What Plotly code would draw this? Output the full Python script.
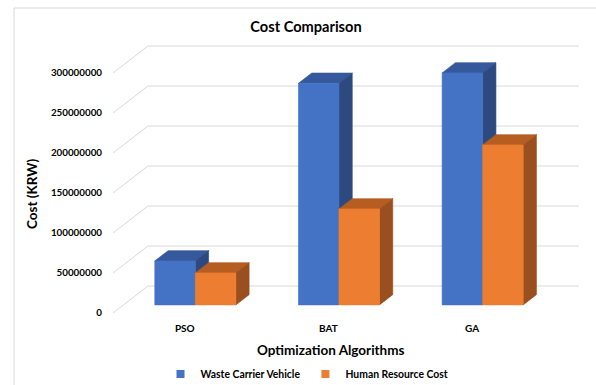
import plotly.graph_objects as go

# ---- data -------------------------------------------------------------
categories = ["PSO", "BAT", "GA"]
waste_carrier_vehicle = [55_000_000, 277_000_000, 290_000_000]
human_resource_cost = [40_000_000, 120_000_000, 200_000_000]
y_tick_values = [0, 50_000_000, 100_000_000, 150_000_000,
                 200_000_000, 250_000_000, 300_000_000]

series_names = ["Waste Carrier Vehicle", "Human Resource Cost"]
series_values = [waste_carrier_vehicle, human_resource_cost]

# ---- styling / oblique projection -------------------------------------
FONT = "Lato"
FRONT_COLORS = ["#4472C4", "#ED7D31"]
TOP_COLORS = ["#35599C", "#B65D22"]
SIDE_COLORS = ["#2C4A7F", "#9A4F1E"]
GRID_COLOR = "#D9D9D9"

DEPTH_X = 0.2436          # full floor depth, in category units
DEPTH_Y = 33_750_000      # full floor depth, in cost units
BAR_FRONT = 0.30          # depth fraction of the bars' front faces
BAR_BACK = 0.68           # depth fraction of the bars' back faces
BAR_WIDTH = 0.282         # width of one bar, in category units
WALL_LEFT, WALL_RIGHT = -0.5, len(categories) - 0.5

W, H = 596, 385
M_L, M_R, M_T, M_B = 108, 11, 36, 67
X_RANGE = [-0.5346, 2.7856]
Y_RANGE = [-6_250_000, 346_250_000]
PW, PH = W - M_L - M_R, H - M_T - M_B


def proj(x, v, d):
    """Oblique projection of (x, value, depth-fraction) onto the 2D axes."""
    return x + d * DEPTH_X, v + d * DEPTH_Y


def polygon(points):
    xs, ys = zip(*[proj(*p) for p in points])
    return list(xs) + [xs[0]], list(ys) + [ys[0]]


def paper_x(px):
    return (px - M_L) / PW


def paper_y(py):
    return (H - M_B - py) / PH


fig = go.Figure()

# side wall diagonals and back wall gridlines
gx, gy = [], []
for v in y_tick_values:
    for p in [(WALL_LEFT, v, 0), (WALL_LEFT, v, 1), (WALL_RIGHT, v, 1)]:
        px, py = proj(*p)
        gx.append(px)
        gy.append(py)
    gx.append(None)
    gy.append(None)
fig.add_trace(go.Scatter(x=gx, y=gy, mode="lines",
                         line=dict(color=GRID_COLOR, width=1),
                         hoverinfo="skip", showlegend=False))

# 3D bars, drawn left to right so nearer faces cover hidden ones
for ci, cat in enumerate(categories):
    for si, vals in enumerate(series_values):
        v = vals[ci]
        x0 = ci - BAR_WIDTH + si * BAR_WIDTH
        x1 = x0 + BAR_WIDTH
        faces = [
            ([(x0, v, BAR_FRONT), (x1, v, BAR_FRONT),
              (x1, v, BAR_BACK), (x0, v, BAR_BACK)], TOP_COLORS[si]),
            ([(x1, 0, BAR_FRONT), (x1, 0, BAR_BACK),
              (x1, v, BAR_BACK), (x1, v, BAR_FRONT)], SIDE_COLORS[si]),
            ([(x0, 0, BAR_FRONT), (x1, 0, BAR_FRONT),
              (x1, v, BAR_FRONT), (x0, v, BAR_FRONT)], FRONT_COLORS[si]),
        ]
        for pts, col in faces:
            px, py = polygon(pts)
            fig.add_trace(go.Scatter(
                x=px, y=py, mode="lines", fill="toself", fillcolor=col,
                line=dict(color=col, width=0.6),
                name=series_names[si],
                hovertemplate=f"{cat}: {v:,}<extra>{series_names[si]}</extra>",
                showlegend=False))

# legend entries
for si, name in enumerate(series_names):
    fig.add_trace(go.Scatter(x=[None], y=[None], mode="markers", name=name,
                             marker=dict(symbol="square", size=8,
                                         color=FRONT_COLORS[si])))

# chart frame (left and top edges)
fx, fy = paper_x(14), paper_y(8)
frame = dict(type="line", xref="paper", yref="paper",
             line=dict(color=GRID_COLOR, width=1), layer="below")
fig.add_shape(frame, x0=fx, x1=fx, y0=fy, y1=-0.5)
fig.add_shape(frame, x0=fx, x1=1.5, y0=fy, y1=fy)

fig.update_layout(
    width=W, height=H,
    margin=dict(l=M_L, r=M_R, t=M_T, b=M_B),
    paper_bgcolor="white", plot_bgcolor="white",
    font=dict(family=FONT, color="#000000"),
    title=dict(text="Cost Comparison", x=306 / W, xref="container",
               xanchor="center", y=1 - 27 / H, yref="container",
               yanchor="middle",
               font=dict(family=FONT, size=14.6, weight="bold", color="#000")),
    xaxis=dict(range=X_RANGE, tickvals=list(range(len(categories))),
               ticktext=categories, showgrid=False, zeroline=False,
               showline=False, ticks="", ticklabelstandoff=3,
               tickfont=dict(family=FONT, size=10, weight="bold")),
    yaxis=dict(range=Y_RANGE, tickvals=y_tick_values, tickformat="d",
               showgrid=False, zeroline=False, showline=False,
               ticks="outside", ticklen=3, tickcolor="rgba(0,0,0,0)",
               tickfont=dict(family=FONT, size=9.8, weight="bold")),
    legend=dict(orientation="h", x=307 / W, xref="container",
                xanchor="center", y=1 - 374 / H, yref="container",
                yanchor="middle",
                font=dict(family=FONT, size=10.4, weight="bold")),
    annotations=[
        dict(text="Optimization Algorithms", xref="paper", yref="paper",
             x=paper_x(331), y=paper_y(350), xanchor="center",
             yanchor="middle", showarrow=False,
             font=dict(family=FONT, size=13.5, weight="bold")),
        dict(text="Cost (KRW)", xref="paper", yref="paper",
             x=paper_x(32), y=paper_y(194), xanchor="center",
             yanchor="middle", textangle=-90, showarrow=False,
             font=dict(family=FONT, size=13.5, weight="bold")),
    ],
)

fig.write_html("out.html")
